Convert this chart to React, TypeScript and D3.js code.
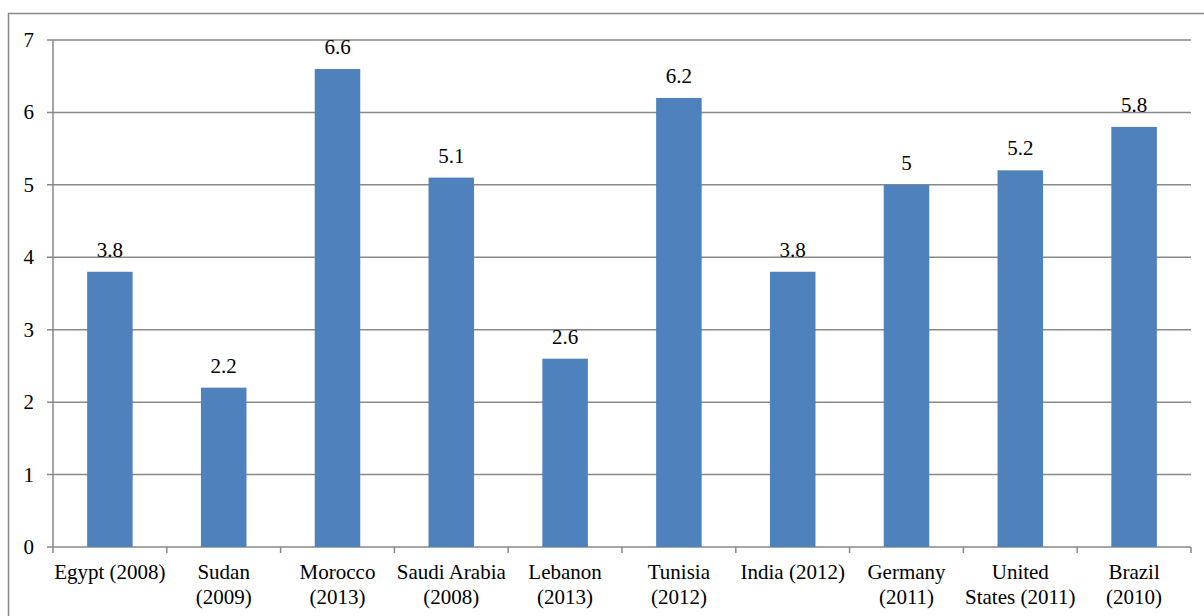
import React, { useEffect, useRef } from "react";
import * as d3 from "d3";

const categories = [
  ["Egypt (2008)"],
  ["Sudan", "(2009)"],
  ["Morocco", "(2013)"],
  ["Saudi Arabia", "(2008)"],
  ["Lebanon", "(2013)"],
  ["Tunisia", "(2012)"],
  ["India (2012)"],
  ["Germany", "(2011)"],
  ["United", "States (2011)"],
  ["Brazil", "(2010)"],
];
const values = [3.8, 2.2, 6.6, 5.1, 2.6, 6.2, 3.8, 5, 5.2, 5.8];
const yTicks = [0, 1, 2, 3, 4, 5, 6, 7];

const App = () => {
  const ref = useRef<SVGSVGElement>(null);
  const width = 1204;
  const height = 616;

  useEffect(() => {
    const svg = d3.select(ref.current);
    svg.selectAll("*").remove();

    const margin = { top: 40, right: 13, bottom: 69, left: 53 };
    const font = "'Liberation Serif', 'Times New Roman', serif";
    const fontSize = "21px";

    // outer chart border
    svg.append("rect")
      .attr("x", 8.5)
      .attr("y", 13.5)
      .attr("width", width + 20)
      .attr("height", height + 20)
      .attr("fill", "white")
      .attr("stroke", "#898989")
      .attr("stroke-width", 1.5);

    const idx = values.map((_, i) => i);
    const x = d3.scaleBand<number>()
      .domain(idx)
      .range([margin.left, width - margin.right])
      .paddingInner(0.6)
      .paddingOuter(0.3);

    const band = d3.scaleBand<number>()
      .domain(idx)
      .range([margin.left, width - margin.right]);

    const y = d3.scaleLinear()
      .domain([0, 7])
      .range([height - margin.bottom, margin.top]);

    // gridlines
    svg.append("g")
      .selectAll("line")
      .data(yTicks)
      .join("line")
      .attr("x1", margin.left - 6)
      .attr("x2", width - margin.right)
      .attr("y1", (d) => y(d))
      .attr("y2", (d) => y(d))
      .attr("stroke", "#898989")
      .attr("stroke-width", 1.5);

    // y axis line
    svg.append("line")
      .attr("x1", margin.left)
      .attr("x2", margin.left)
      .attr("y1", y(7))
      .attr("y2", y(0))
      .attr("stroke", "#898989")
      .attr("stroke-width", 1.5);

    // y tick labels
    svg.append("g")
      .selectAll("text")
      .data(yTicks)
      .join("text")
      .attr("x", margin.left - 19)
      .attr("y", (d) => y(d))
      .attr("dy", "0.33em")
      .attr("text-anchor", "end")
      .style("font-family", font)
      .style("font-size", fontSize)
      .text((d) => d);

    // bars
    svg.append("g")
      .selectAll("rect")
      .data(values)
      .join("rect")
      .attr("x", (_, i) => x(i)!)
      .attr("y", (d) => y(d))
      .attr("width", x.bandwidth())
      .attr("height", (d) => y(0) - y(d))
      .attr("fill", "#4F81BD");

    // value labels
    svg.append("g")
      .selectAll("text")
      .data(values)
      .join("text")
      .attr("x", (_, i) => x(i)! + x.bandwidth() / 2)
      .attr("y", (d) => y(d) - 15)
      .attr("text-anchor", "middle")
      .style("font-family", font)
      .style("font-size", fontSize)
      .text((d) => d);

    // x axis ticks
    svg.append("g")
      .selectAll("line")
      .data(d3.range(values.length + 1))
      .join("line")
      .attr("x1", (i) => margin.left + i * band.bandwidth())
      .attr("x2", (i) => margin.left + i * band.bandwidth())
      .attr("y1", y(0))
      .attr("y2", y(0) + 6)
      .attr("stroke", "#898989")
      .attr("stroke-width", 1.5);

    // category labels
    const cat = svg.append("g")
      .selectAll("text")
      .data(categories)
      .join("text")
      .attr("x", (_, i) => band(i)! + band.bandwidth() / 2)
      .attr("y", y(0) + 32)
      .attr("text-anchor", "middle")
      .style("font-family", font)
      .style("font-size", fontSize);

    cat.selectAll("tspan")
      .data((d) => d)
      .join("tspan")
      .attr("x", function () {
        return (this.parentNode as SVGTextElement).getAttribute("x");
      })
      .attr("dy", (_, j) => (j === 0 ? 0 : 25))
      .text((d) => d);
  }, []);

  return (
    <svg
      ref={ref}
      width={width}
      height={height}
      style={{ position: "absolute", left: 0, top: 0 }}
    ></svg>
  );
};

export default App;
